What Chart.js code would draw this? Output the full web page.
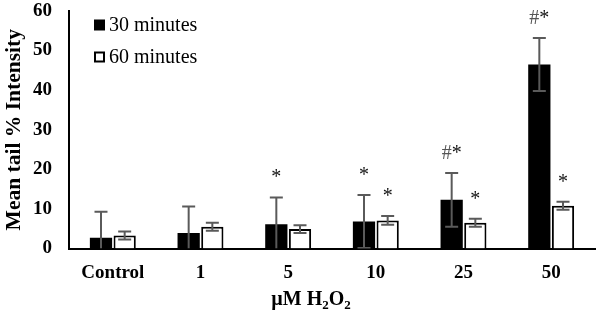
<!DOCTYPE html>
<html>
<head>
<meta charset="utf-8">
<script src="https://cdn.jsdelivr.net/npm/chart.js@4.4.1/dist/chart.umd.min.js"></script>
<style>
html,body{margin:0;padding:0;background:#fff;}
#wrap{width:600px;height:310px;position:relative;}
</style>
</head>
<body>
<div id="wrap"><canvas id="c" width="600" height="310"></canvas></div>
<script>
const categories = ['Control', '1', '5', '10', '25', '50'];
const values30 = [2.7, 3.9, 6.1, 6.8, 12.3, 46.5];
const values60 = [3.3, 5.5, 4.9, 7.1, 6.5, 10.8];
const errors30 = [6.6, 6.7, 6.8, 6.7, 6.8, 6.7];
const errors60 = [1.0, 1.0, 1.0, 1.1, 1.0, 1.0];
const marks30 = ['', '', '*', '*', '#*', '#*'];
const marks60 = ['', '', '', '*', '*', '*'];
const yTicks = [0, 10, 20, 30, 40, 50, 60];
const seriesLabels = ['30 minutes', '60 minutes'];

const SERIF = '"Liberation Serif", "Times New Roman", serif';

const errPlugin = {
  id: 'errbars',
  afterDatasetsDraw(chart) {
    const ctx = chart.ctx, ys = chart.scales.y, a = chart.chartArea;
    ctx.save();
    ctx.beginPath();
    ctx.rect(a.left, 0, a.right - a.left, a.bottom - 0);
    ctx.clip();
    [errors30, errors60].forEach((errs, di) => {
      const meta = chart.getDatasetMeta(di);
      meta.data.forEach((bar, i) => {
        const v = chart.data.datasets[di].data[i], e = errs[i];
        const x = bar.x;
        const yt = ys.getPixelForValue(v + e);
        const lowV = v - e;
        const yb = ys.getPixelForValue(Math.max(0, lowV));
        ctx.strokeStyle = '#5a5a5a';
        ctx.lineWidth = 2;
        ctx.beginPath();
        ctx.moveTo(x, yt); ctx.lineTo(x, yb);
        ctx.moveTo(x - 6.5, yt); ctx.lineTo(x + 6.5, yt);
        if (lowV > 0) { ctx.moveTo(x - 6.5, yb); ctx.lineTo(x + 6.5, yb); }
        ctx.stroke();
      });
    });
    ctx.restore();
  },
  afterDraw(chart) {
    const ctx = chart.ctx, ys = chart.scales.y;
    ctx.save();
    // significance marks
    ctx.font = '20px ' + SERIF;
    ctx.textBaseline = 'alphabetic';
    [[marks30, errors30], [marks60, errors60]].forEach(([marks, errs], di) => {
      const meta = chart.getDatasetMeta(di);
      meta.data.forEach((bar, i) => {
        const m = marks[i];
        if (!m) return;
        const v = chart.data.datasets[di].data[i];
        const yt = ys.getPixelForValue(v + errs[i]);
        const w = ctx.measureText(m).width;
        let x = bar.x - w / 2;
        for (const ch of m) {
          ctx.fillStyle = ch === '#' ? '#555555' : '#111111';
          ctx.fillText(ch, x, yt - 14);
          x += ctx.measureText(ch).width;
        }
      });
    });
    // legend
    const lx = 94, rows = [25, 57];
    chart.data.datasets.forEach((ds, di) => {
      const cy = rows[di];
      if (di === 0) {
        ctx.fillStyle = '#000';
        ctx.fillRect(lx, cy - 5.5, 11, 11);
      } else {
        ctx.fillStyle = '#fff';
        ctx.fillRect(lx, cy - 5.5, 11, 11);
        ctx.strokeStyle = '#000';
        ctx.lineWidth = 2;
        ctx.strokeRect(lx + 1, cy - 4.5, 9, 9);
      }
      ctx.fillStyle = '#000';
      ctx.font = '20px ' + SERIF;
      ctx.textBaseline = 'middle';
      ctx.textAlign = 'left';
      ctx.fillText(ds.label, lx + 15, cy + 1);
    });
    // x axis title with subscripts
    const big = 'bold 20px ' + SERIF, small = 'bold 13px ' + SERIF;
    const parts = [['µM H', big, 0], ['2', small, 4], ['O', big, 0], ['2', small, 4]];
    let total = 0;
    parts.forEach(p => { ctx.font = p[1]; total += ctx.measureText(p[0]).width; });
    let x = 311 - total / 2;
    const base = 305;
    ctx.textBaseline = 'alphabetic';
    ctx.fillStyle = '#000';
    parts.forEach(p => {
      ctx.font = p[1];
      ctx.fillText(p[0], x, base + p[2]);
      x += ctx.measureText(p[0]).width;
    });
    ctx.restore();
  }
};

new Chart(document.getElementById('c'), {
  type: 'bar',
  data: {
    labels: categories,
    datasets: [
      { label: seriesLabels[0], data: values30, backgroundColor: '#000000', borderColor: '#000000', borderWidth: 0 },
      { label: seriesLabels[1], data: values60, backgroundColor: '#ffffff', borderColor: '#000000', borderWidth: 2 }
    ]
  },
  options: {
    responsive: false,
    animation: false,
    events: [],
    categoryPercentage: 0.54,
    barPercentage: 0.94,
    layout: { padding: { left: 0, right: 5, top: 11, bottom: 0 } },
    plugins: { legend: { display: false }, tooltip: { enabled: false } },
    scales: {
      x: {
        grid: { display: false, drawTicks: false },
        border: { display: true, color: '#000', width: 2 },
        ticks: { color: '#000', font: { family: SERIF, size: 19, weight: 'bold' }, padding: 13, maxRotation: 0 },
        afterFit(s) { s.height = 61.5; s.paddingLeft = 0; s.paddingRight = 0; }
      },
      y: {
        min: 0, max: 60,
        grid: { display: false, drawTicks: false },
        border: { display: true, color: '#000', width: 2 },
        afterBuildTicks(s) { s.ticks = yTicks.map(v => ({ value: v })); },
        ticks: { color: '#000', font: { family: SERIF, size: 19, weight: 'bold' }, padding: 17 },
        title: { display: true, text: 'Mean tail % Intensity', color: '#000', font: { family: SERIF, size: 21.5, weight: 'bold' }, padding: { top: 2, bottom: 0 } },
        afterFit(s) { s.width = 69; s.paddingTop = 0; s.paddingBottom = 0; }
      }
    }
  },
  plugins: [errPlugin]
});
</script>
</body>
</html>
